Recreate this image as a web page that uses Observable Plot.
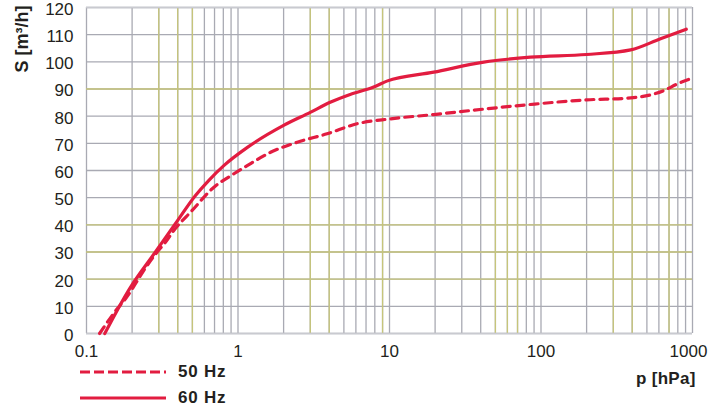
<!DOCTYPE html>
<html>
<head>
<meta charset="utf-8">
<script src="https://cdn.jsdelivr.net/npm/d3@7"></script>
<script src="https://cdn.jsdelivr.net/npm/@observablehq/plot@0.6"></script>
<style>
  html, body { margin: 0; padding: 0; background: #fff; }
  #wrap { position: relative; width: 709px; height: 406px; overflow: hidden; font-family: "Liberation Sans", Arial, sans-serif; color: #231f20; }
  #chart svg { display: block; }
  .lg { position: absolute; left: 0; top: 0; }
  .lbl { position: absolute; font-weight: bold; font-size: 17px; letter-spacing: 0.8px; line-height: 1; white-space: nowrap; }
</style>
</head>
<body>
<div id="wrap">
  <div id="chart"></div>
  <svg class="lg" width="709" height="406" id="legendSvg"></svg>
  <div class="lbl" id="leg50" style="left:178px; top:363px;"></div>
  <div class="lbl" id="leg60" style="left:178px; top:389px;"></div>
  <div class="lbl" id="xTitle" style="left:636px; top:370px; letter-spacing:0.3px;"></div>
</div>
<script>
// ---- data ----
const p50 = [0.122, 0.159, 0.181, 0.251, 0.293, 0.332, 0.377, 0.498, 0.676, 0.94, 1.15, 1.64, 2.46, 3.87, 6.1, 10.1, 19.6, 41.9, 85, 200, 391, 645, 810, 965];
const s50 = [0, 9, 12.8, 25, 30, 33.6, 37.9, 45.3, 53.3, 58.8, 61.8, 66.7, 70.4, 73.5, 77.2, 79, 80.6, 82.6, 84.3, 86, 86.7, 89.4, 92.1, 93.7];
const p60 = [0.132, 0.195, 0.285, 0.386, 0.524, 0.64, 0.806, 1.16, 2.0, 3.0, 4.06, 5.5, 7.86, 9.6, 19.6, 41.9, 85, 200, 391, 615, 910];
const s60 = [0, 17, 30, 40.4, 50.8, 56.3, 61.8, 68.6, 76.6, 81.4, 85.1, 88, 90.7, 92.9, 96.2, 99.9, 101.7, 102.7, 104.4, 108.5, 112];
const seriesNames = ["50 Hz", "60 Hz"];
const xTicks = [0.1, 1, 10, 100, 1000];
const xTickLabels = ["0.1", "1", "10", "100", "1000"];
const yTicks = [0, 10, 20, 30, 40, 50, 60, 70, 80, 90, 100, 110, 120];
const xGridMinor = [0.1,0.2,0.3,0.4,0.5,0.6,0.7,0.8,0.9, 1,2,3,4,5,6,7,8,9, 10,20,30,40,50,60,70,80,90, 100,200,300,400,500,600,700,800,900, 1000];
const xGridOlive = [0.3, 0.4, 0.5, 3, 4, 9, 50, 60, 70, 300, 400, 700];
const yGridOlive = [20, 30, 40, 90];
const yTitle = "S [m³/h]";
const xTitle = "p [hPa]";

const d50 = p50.map((p, i) => ({p, s: s50[i]}));
const d60 = p60.map((p, i) => ({p, s: s60[i]}));

const red = "#e21c40";
const gray = "#a9aab3";
const olive = "#c6c57a";
const fmtX = d => xTickLabels[xTicks.indexOf(d)];

const chart = Plot.plot({
  width: 709,
  height: 360,
  marginLeft: 86,
  marginRight: 17,
  marginTop: 7,
  marginBottom: 27,
  style: {fontFamily: "'Liberation Sans', Arial, sans-serif", fontSize: "17px", color: "#231f20", background: "white"},
  x: {type: "log", domain: [0.1, 1000], label: null},
  y: {domain: [0, 120], label: null},
  marks: [
    Plot.ruleX(xGridMinor, {stroke: gray, strokeWidth: 1.3}),
    Plot.ruleY(yTicks, {stroke: gray, strokeWidth: 1.3}),
    Plot.ruleX(xGridOlive, {stroke: olive, strokeWidth: 1.3}),
    Plot.ruleY(yGridOlive, {stroke: olive, strokeWidth: 1.3}),
    Plot.ruleY([0, 120], {stroke: "#c9cad0", strokeWidth: 1.6}),
    Plot.axisX({ticks: xTicks.slice(0, 4), tickFormat: fmtX, tickSize: 0, tickPadding: 11, label: null, fill: "#231f20"}),
    Plot.axisX({ticks: xTicks.slice(4), tickFormat: fmtX, tickSize: 0, tickPadding: 11, dx: -4, label: null, fill: "#231f20"}),
    Plot.axisY({ticks: yTicks, tickSize: 0, tickPadding: 13, dy: 2, label: null, fill: "#231f20"}),
    Plot.line(d50, {x: "p", y: "s", stroke: red, strokeWidth: 3.2, strokeDasharray: "8,6", curve: "monotone-x"}),
    Plot.line(d60, {x: "p", y: "s", stroke: red, strokeWidth: 3.2, curve: "monotone-x"}),
    Plot.text([yTitle], {frameAnchor: "top-left", rotate: -90, textAnchor: "end", dx: -71, dy: -2, fontWeight: "bold", fontSize: 18, fill: "#231f20"})
  ]
});
document.getElementById("chart").appendChild(chart);

// legend
const lg = d3.select("#legendSvg");
lg.append("line").attr("x1", 80).attr("x2", 166).attr("y1", 372).attr("y2", 372)
  .attr("stroke", red).attr("stroke-width", 3.2).attr("stroke-dasharray", "10,4");
lg.append("line").attr("x1", 80).attr("x2", 166).attr("y1", 398).attr("y2", 398)
  .attr("stroke", red).attr("stroke-width", 3.2);
document.getElementById("leg50").textContent = seriesNames[0];
document.getElementById("leg60").textContent = seriesNames[1];
document.getElementById("xTitle").textContent = xTitle;
</script>
</body>
</html>
